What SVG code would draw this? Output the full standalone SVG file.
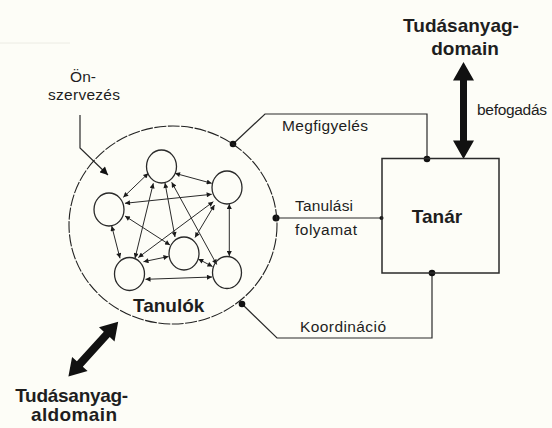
<svg xmlns="http://www.w3.org/2000/svg" width="552" height="428" viewBox="0 0 552 428">
<defs>
<style>
.t{font-family:"Liberation Sans",Arial,sans-serif;fill:#1e1e1e}
.b{font-weight:bold;font-size:19px}
.r{font-size:15.5px}
.ln{fill:none;stroke:#2a2a2a;stroke-width:1.2}
.net{fill:none;stroke:#2a2a2a;stroke-width:1;marker-start:url(#ah);marker-end:url(#ah)}
.sc{fill:none;stroke:#2a2a2a;stroke-width:1.3}
.dot{fill:#111}
.big{fill:#111}
</style>
<marker id="ah" viewBox="0 0 10 10" refX="10" refY="5" markerWidth="6.5" markerHeight="5" markerUnits="userSpaceOnUse" orient="auto-start-reverse">
<path d="M0 0 L10 5 L0 10 Z" fill="#1a1a1a"/>
</marker>
<marker id="ah2" viewBox="0 0 10 10" refX="10" refY="5" markerWidth="9" markerHeight="8" markerUnits="userSpaceOnUse" orient="auto">
<path d="M0 0 L10 5 L0 10 Z" fill="#111"/>
</marker>
</defs>
<rect width="552" height="428" fill="#fdfdf7"/>
<line x1="0" y1="43" x2="70" y2="43" stroke="#ecece4" stroke-width="1"/>

<g id="connectors">
<polyline class="ln" points="233,144 265,114 427,114 427,159"/>
<line class="ln" x1="276" y1="218" x2="382" y2="218"/>
<polyline class="ln" points="242,304 277,338 432,338 432,273"/>
<polyline class="ln" points="80,115 80,148 108,175" marker-end="url(#ah2)"/>
<path class="big" transform="translate(463.5,110.5) rotate(90)" d="M-48.5 0 L-30 -10.5 L-30 -3.5 L30 -3.5 L30 -10.5 L48.5 0 L30 10.5 L30 3.5 L-30 3.5 L-30 10.5 Z"/>
<path class="big" transform="translate(93.3,349.2) rotate(-47.7)" d="M-37 0 L-20 -10.5 L-20 -4 L20 -4 L20 -10.5 L37 0 L20 10.5 L20 4 L-20 4 L-20 10.5 Z"/>
<g id="network-links">
<line class="net" x1="148.3" y1="173.3" x2="123.3" y2="197.3"/>
<line class="net" x1="175" y1="173.3" x2="211.7" y2="183.3"/>
<line class="net" x1="125" y1="203.3" x2="211.7" y2="194.3"/>
<line class="net" x1="125" y1="216" x2="170" y2="245"/>
<line class="net" x1="111.7" y1="226" x2="120" y2="258.3"/>
<line class="net" x1="153.3" y1="183.3" x2="135" y2="258.3"/>
<line class="net" x1="165" y1="183" x2="175" y2="237"/>
<line class="net" x1="171.7" y1="182.3" x2="216.7" y2="264.5"/>
<line class="net" x1="213.3" y1="201.7" x2="138.3" y2="257.5"/>
<line class="net" x1="214.5" y1="205" x2="195" y2="237.5"/>
<line class="net" x1="229.3" y1="204" x2="229.3" y2="256"/>
<line class="net" x1="143.5" y1="261.7" x2="168.5" y2="256.5"/>
<line class="net" x1="198.3" y1="259" x2="212.5" y2="266.5"/>
<line class="net" x1="145.5" y1="279.3" x2="212" y2="277"/>
</g>
<circle class="dot" cx="233" cy="144" r="3.3"/>
<circle class="dot" cx="276" cy="218" r="3.5"/>
<circle class="dot" cx="242" cy="304" r="3.3"/>
<circle class="dot" cx="427" cy="159" r="3.3"/>
<circle class="dot" cx="432" cy="273" r="3.3"/>
<circle class="dot" cx="381.5" cy="218" r="2"/>
</g>

<g id="tanulok">
<ellipse cx="173" cy="225" rx="104" ry="99" fill="none" stroke="#222" stroke-width="1.1" stroke-dasharray="12 1.5"/>
<text class="t b" x="168.7" y="311.7" text-anchor="middle">Tanulók</text>
</g>
<g id="n-top"><ellipse class="sc" cx="161.5" cy="166.5" rx="15" ry="16.5"/></g>
<g id="n-right"><ellipse class="sc" cx="227" cy="187.5" rx="15" ry="16.5"/></g>
<g id="n-left"><ellipse class="sc" cx="109" cy="209.5" rx="15" ry="16.5"/></g>
<g id="n-mid"><ellipse class="sc" cx="184" cy="253.5" rx="15" ry="16.5"/></g>
<g id="n-botleft"><ellipse class="sc" cx="129.5" cy="274" rx="15" ry="16.5"/></g>
<g id="n-botright"><ellipse class="sc" cx="227" cy="272.5" rx="14.5" ry="16"/></g>

<g id="tanar">
<rect x="382" y="158.5" width="117" height="114.5" fill="none" stroke="#2a2a2a" stroke-width="1.5"/>
<text class="t b" x="437" y="223.3" text-anchor="middle">Tanár</text>
</g>

<g id="domain">
<text class="t b" x="461" y="32" text-anchor="middle">Tudásanyag-</text>
<text class="t b" x="465" y="55" text-anchor="middle">domain</text>
</g>
<g id="aldomain">
<text class="t b" x="71.7" y="401.7" text-anchor="middle" textLength="113">Tudásanyag-</text>
<text class="t b" x="74" y="420.7" text-anchor="middle" textLength="86">aldomain</text>
</g>
<g id="onszervezes">
<text class="t r" x="83" y="82" text-anchor="middle">Ön-</text>
<text class="t r" x="84" y="100" text-anchor="middle" textLength="72">szervezés</text>
</g>
<g id="labels">
<text class="t r" x="477" y="115" textLength="70">befogadás</text>
<text class="t r" x="282" y="130.5" textLength="86">Megfigyelés</text>
<text class="t r" x="295" y="210.5" textLength="58">Tanulási</text>
<text class="t r" x="295" y="235" textLength="62">folyamat</text>
<text class="t r" x="300" y="332" textLength="86">Koordináció</text>
</g>
</svg>
